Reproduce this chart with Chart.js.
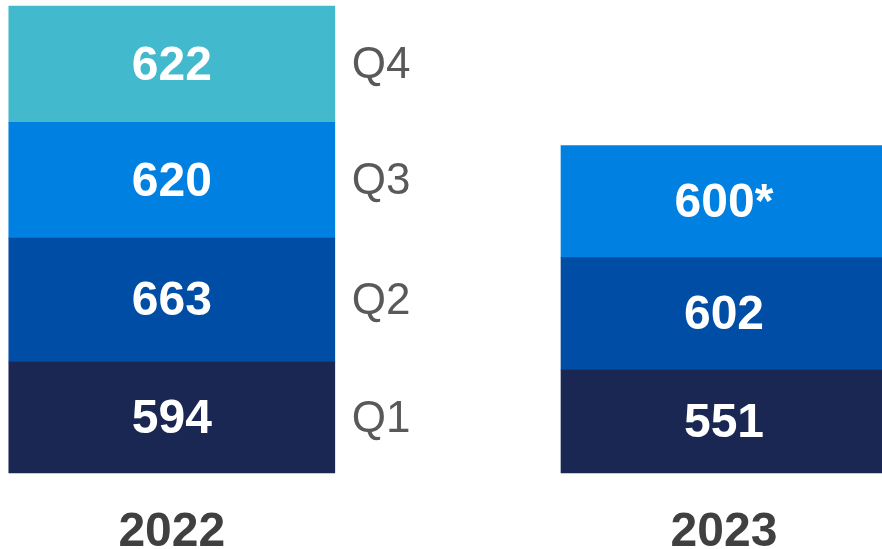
<!DOCTYPE html>
<html>
<head>
<meta charset="utf-8">
<script src="https://cdn.jsdelivr.net/npm/chart.js@4/dist/chart.umd.min.js"></script>
<style>
  html, body { margin: 0; padding: 0; background: #ffffff; overflow: hidden; }
  #wrap { width: 882px; height: 549px; position: relative; }
</style>
</head>
<body>
<div id="wrap"><canvas id="c" width="882" height="549"></canvas></div>
<script>
// ---- data ----
const years = ['2022', '2023'];
const quarterNames = ['Q1', 'Q2', 'Q3', 'Q4'];
const q1 = [594, 551];
const q2 = [663, 602];
const q3 = [620, 600];
const q4 = [622, null];
const valueLabels = [
  ['594', '551'],
  ['663', '602'],
  ['620', '600*'],
  ['622', '']
];
const seriesColors = ['#1A2752', '#004DA6', '#0080E0', '#42B9CC'];

const FONT = '"Liberation Sans", Arial, Helvetica, sans-serif';

const labelPlugin = {
  id: 'segLabels',
  afterDatasetsDraw(chart) {
    const ctx = chart.ctx;
    ctx.save();
    chart.data.datasets.forEach((ds, di) => {
      const meta = chart.getDatasetMeta(di);
      meta.data.forEach((el, i) => {
        const v = ds.data[i];
        if (v === null || v === undefined) return;
        const cy = (el.y + el.base) / 2;
        // value label
        ctx.fillStyle = '#ffffff';
        ctx.font = 'bold 48px ' + FONT;
        ctx.textAlign = 'center';
        ctx.textBaseline = 'middle';
        ctx.fillText(valueLabels[di][i], el.x, cy + 2);
        // quarter label next to first bar
        if (i === 0) {
          ctx.fillStyle = '#595959';
          ctx.font = '44px ' + FONT;
          ctx.textAlign = 'left';
          ctx.fillText(quarterNames[di], el.x + el.width / 2 + 17, cy + 2);
        }
      });
    });
    ctx.restore();
  }
};

const datasets = [q1, q2, q3, q4].map((arr, k) => ({
  label: quarterNames[k],
  data: arr,
  backgroundColor: seriesColors[k],
  borderWidth: 0,
  barThickness: 326,
  clip: false
}));

new Chart(document.getElementById('c'), {
  type: 'bar',
  data: { labels: years, datasets },
  options: {
    responsive: false,
    animation: false,
    layout: { padding: { left: 171.8, right: 158, top: 6, bottom: -43.4 } },
    plugins: { legend: { display: false }, tooltip: { enabled: false } },
    scales: {
      x: {
        stacked: true,
        offset: false,
        grid: { display: false, drawTicks: false },
        border: { display: false },
        ticks: {
          color: '#404040',
          font: { family: FONT, size: 48, weight: 'bold', lineHeight: 0.8 },
          padding: 40.5,
          maxRotation: 0,
          autoSkip: false
        }
      },
      y: {
        stacked: true,
        display: false,
        min: 0,
        max: 2500
      }
    }
  },
  plugins: [labelPlugin]
});
</script>
</body>
</html>
